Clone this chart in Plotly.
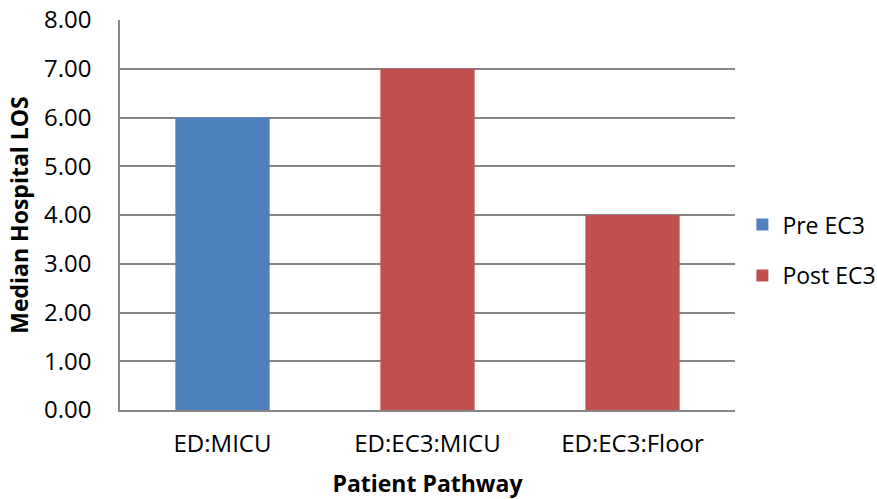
import plotly.graph_objects as go

# Median hospital length of stay by patient pathway
categories = ["ED:MICU", "ED:EC3:MICU", "ED:EC3:Floor"]
pre_ec3 = [6.00, None, None]
post_ec3 = [None, 7.00, 4.00]
y_ticks = [0, 1, 2, 3, 4, 5, 6, 7, 8]

FONT = "Open Sans"
GRID = "#868686"

fig = go.Figure()
fig.add_trace(go.Bar(x=categories, y=pre_ec3, name="Pre EC3",
                     marker=dict(color="#4F81BD", line=dict(width=0)),
                     width=0.46, legendgroup="pre"))
fig.add_trace(go.Bar(x=categories, y=post_ec3, name="Post EC3",
                     marker=dict(color="#C0504D", line=dict(width=0)),
                     width=0.46, legendgroup="post"))

fig.update_layout(
    width=877, height=499,
    margin=dict(l=120, r=142, t=20, b=89, autoexpand=False),
    paper_bgcolor="white", plot_bgcolor="white",
    barmode="overlay",
    font=dict(family=FONT, size=24, color="#000000"),
    showlegend=True,
    legend=dict(x=1.012, y=0.41, xanchor="left", yanchor="middle",
                traceorder="grouped", tracegroupgap=18,
                font=dict(family=FONT, size=23, color="#000000"),
                bgcolor="rgba(0,0,0,0)"),
)

fig.update_xaxes(
    type="category", showgrid=False,
    showline=True, linecolor=GRID, linewidth=1.5,
    ticks="", ticklabelstandoff=11, tickfont=dict(family=FONT, size=24),
    title=dict(text="<b>Patient Pathway</b>", font=dict(family=FONT, size=23), standoff=22),
)
fig.update_yaxes(
    range=[0, 8], tickvals=y_ticks, tickformat=".2f",
    showgrid=True, gridcolor=GRID, gridwidth=1.5,
    showline=True, linecolor=GRID, linewidth=1.5,
    zeroline=False, ticks="", ticklabelstandoff=22,
    tickfont=dict(family=FONT, size=24),
    title=dict(text="<b>Median Hospital LOS</b>", font=dict(family=FONT, size=23), standoff=9),
)

fig.write_html("out.html")
